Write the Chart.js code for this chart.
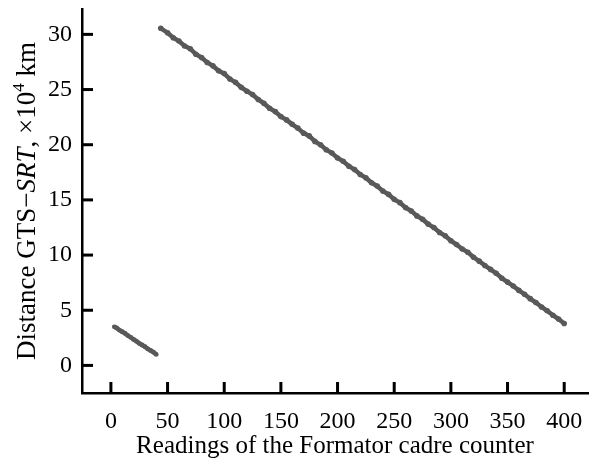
<!DOCTYPE html>
<html>
<head>
<meta charset="utf-8">
<script src="https://cdn.jsdelivr.net/npm/chart.js@4.4.0/dist/chart.umd.min.js"></script>
<style>
  body { margin: 0; background: #fff; }
  #wrap { width: 592px; height: 463px; }
</style>
</head>
<body>
<div id="wrap"><canvas id="plot"></canvas></div>
<script>
// readings of the counter and distances (x10^4 km)
const shortX = [3, 5, 7.5, 10, 12.5, 15, 17.5, 20, 22.5, 25, 27.5, 30, 32.5, 35, 37.5, 40];
const shortY = [3.5, 3.4, 3.2, 3.05, 2.9, 2.7, 2.55, 2.35, 2.2, 2.0, 1.85, 1.7, 1.5, 1.35, 1.2, 1.0];

const longX = [44, 50, 55, 60, 65, 70, 75, 80, 85, 90, 95, 100, 105, 110, 115, 120, 125, 130,
  135, 140, 145, 150, 155, 160, 165, 170, 175, 180, 185, 190, 195, 200, 205, 210, 215, 220,
  225, 230, 235, 240, 245, 250, 255, 260, 265, 270, 275, 280, 285, 290, 295, 300, 305, 310,
  315, 320, 325, 330, 335, 340, 345, 350, 355, 360, 365, 370, 375, 380, 385, 390, 395, 400];
const longY = [30.55, 30.15, 29.7, 29.4, 28.95, 28.7, 28.2, 27.9, 27.45, 27.15, 26.7, 26.45,
  25.95, 25.65, 25.2, 24.85, 24.55, 24.1, 23.75, 23.3, 23.0, 22.55, 22.25, 21.85, 21.5, 21.05,
  20.8, 20.3, 20.0, 19.55, 19.25, 18.8, 18.5, 18.05, 17.75, 17.3, 17.0, 16.55, 16.25, 15.8,
  15.5, 15.05, 14.75, 14.3, 14.0, 13.55, 13.25, 12.8, 12.5, 12.05, 11.75, 11.3, 10.95, 10.55,
  10.25, 9.8, 9.45, 9.05, 8.7, 8.35, 7.9, 7.55, 7.2, 6.8, 6.45, 6.05, 5.7, 5.3, 4.95, 4.55,
  4.2, 3.8];

const xTicks = [0, 50, 100, 150, 200, 250, 300, 350, 400];
const yTicks = [0, 5, 10, 15, 20, 25, 30];

const FONT = "'Liberation Serif', 'Times New Roman', serif";
const dotColor = "#595959";

function pts(xs, ys) {
  return xs.map((x, i) => ({ x: x, y: ys[i] }));
}

// inward tick marks and the y title (italic SRT, superscript 4)
const decor = {
  id: "decor",
  afterDraw(chart) {
    const c = chart.ctx;
    const area = chart.chartArea;
    const sx = chart.scales.x, sy = chart.scales.y;
    c.save();
    c.fillStyle = "#000";
    for (let i = 0; i < xTicks.length; i++) {
      const px = sx.getPixelForValue(xTicks[i]);
      c.fillRect(px - 1.5, area.bottom - 11, 3, 11);
    }
    for (let i = 0; i < yTicks.length; i++) {
      const py = sy.getPixelForValue(yTicks[i]);
      c.fillRect(area.left, py - 1.5, 11, 3);
    }

    const parts = [
      { t: "Distance GTS\u2212", f: "27px " + FONT, dy: 0 },
      { t: "SRT", f: "italic 27px " + FONT, dy: 0 },
      { t: ", \u00d710", f: "27px " + FONT, dy: 0 },
      { t: "4", f: "17px " + FONT, dy: -11 },
      { t: " km", f: "27px " + FONT, dy: 0 }
    ];
    let total = 0;
    parts.forEach(p => { c.font = p.f; p.w = c.measureText(p.t).width; total += p.w; });
    c.translate(35, (area.top + area.bottom) / 2);
    c.rotate(-Math.PI / 2);
    c.textBaseline = "alphabetic";
    let x = -total / 2;
    parts.forEach(p => {
      c.font = p.f;
      c.fillText(p.t, x, p.dy);
      x += p.w;
    });
    c.restore();
  }
};

new Chart(document.getElementById("plot"), {
  type: "scatter",
  data: {
    datasets: [
      {
        data: pts(shortX, shortY),
        showLine: true,
        borderColor: dotColor,
        borderWidth: 4.5,
        backgroundColor: dotColor,
        pointRadius: 2.4,
        pointBorderWidth: 0
      },
      {
        data: pts(longX, longY),
        showLine: true,
        borderColor: dotColor,
        borderWidth: 4.5,
        backgroundColor: dotColor,
        pointRadius: 2.8,
        pointBorderWidth: 0
      }
    ]
  },
  options: {
    responsive: true,
    maintainAspectRatio: false,
    animation: false,
    layout: { padding: { left: 0, top: 9, right: 3, bottom: 0 } },
    plugins: { legend: { display: false }, tooltip: { enabled: false } },
    scales: {
      x: {
        type: "linear",
        min: -25.5,
        max: 421,
        afterBuildTicks: s => { s.ticks = xTicks.map(v => ({ value: v })); },
        afterFit: s => {
          s.height = 70;
          s.paddingLeft = 0; s.paddingRight = 0;
        },
        grid: { display: false, drawTicks: false, tickLength: 0 },
        border: { display: true, color: "#000", width: 2.5 },
        ticks: { color: "#000", font: { family: FONT, size: 24 }, padding: 14, maxRotation: 0 },
        title: {
          display: true,
          text: "Readings of the Formator cadre counter",
          color: "#000",
          font: { family: FONT, size: 25 },
          padding: { top: 0, bottom: 2 }
        }
      },
      y: {
        type: "linear",
        min: -2.5,
        max: 32.3,
        afterBuildTicks: s => { s.ticks = yTicks.map(v => ({ value: v })); },
        afterFit: s => {
          s.width = 82;
          s.paddingTop = 0; s.paddingBottom = 0;
        },
        grid: { display: false, drawTicks: false, tickLength: 0 },
        border: { display: true, color: "#000", width: 2.5 },
        ticks: { color: "#000", font: { family: FONT, size: 24 }, padding: 10 }
      }
    }
  },
  plugins: [decor]
});
</script>
</body>
</html>
